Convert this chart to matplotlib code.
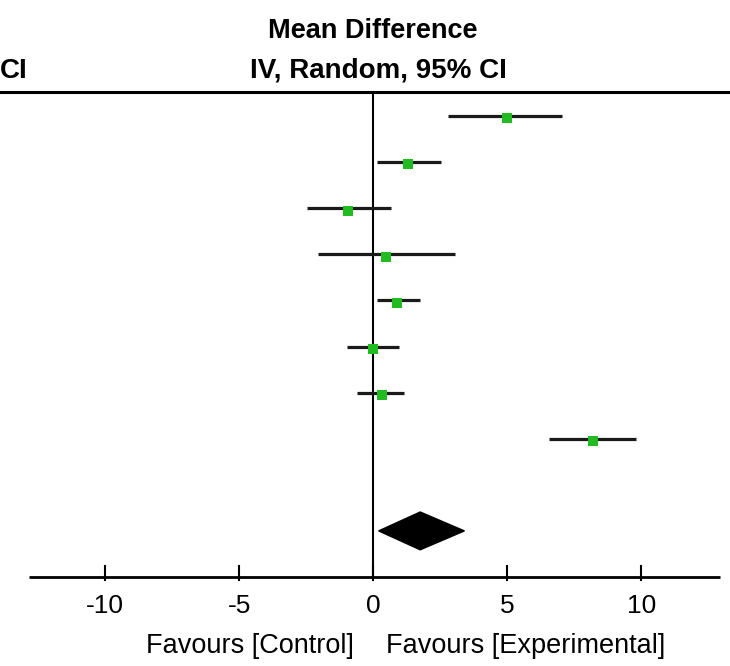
import matplotlib
matplotlib.use("Agg")
import matplotlib.pyplot as plt
from matplotlib.patches import Polygon

plt.rcParams['font.family'] = ['Liberation Sans', 'DejaVu Sans']

# Data
studies = ["Study 1", "Study 2", "Study 3", "Study 4", "Study 5", "Study 6", "Study 7", "Study 8"]
md = [5.0, 1.30, -0.95, 0.47, 0.88, -0.01, 0.32, 8.2]
ci_low = [2.78, 0.14, -2.46, -2.05, 0.14, -0.98, -0.61, 6.57]
ci_high = [7.03, 2.53, 0.66, 3.06, 1.74, 0.96, 1.14, 9.82]
pooled_md = 1.75
pooled_low = 0.2
pooled_high = 3.4
xticks = [-10, -5, 0, 5, 10]
xticklabels = ["-10", "-5", "0", "5", "10"]

W, H = 730, 666
fig = plt.figure(figsize=(W / 100, H / 100), dpi=100)
ax = fig.add_axes([0, 0, 1, 1])
ax.set_axis_off()

px_per_unit = 26.8
x0px = 373.3
ax.set_xlim(-x0px / px_per_unit, (W - x0px) / px_per_unit)
row0_px = 116.0
row_px = 46.1
ax.set_ylim((H - row0_px) / row_px, -row0_px / row_px)

top_y = (92 - row0_px) / row_px
axis_y = 10.0
diamond_y = 9.0

# top header line
ax.axhline(top_y, color="black", lw=2.2)
# zero line
ax.plot([0, 0], [top_y, axis_y], color="black", lw=1.5)
# bottom axis
ax.plot([-12.85, 12.95], [axis_y, axis_y], color="black", lw=2.0, solid_capstyle="butt")
for t, lab in zip(xticks, xticklabels):
    ax.plot([t, t], [axis_y - 0.24, axis_y + 0.06], color="black", lw=1.5)
    ax.text(t, axis_y + 0.62, lab, ha="center", va="center", fontsize=19)

# study rows
for i in range(len(studies)):
    ax.plot([ci_low[i], ci_high[i]], [i, i], color="#1a1a1a", lw=2.3, solid_capstyle="butt")
    ax.plot(md[i], i + 0.05, marker="s", color="#22bb22", markersize=7.5, markeredgewidth=0)

# pooled diamond
dh = 0.41
diamond = Polygon([[pooled_low, diamond_y], [pooled_md, diamond_y - dh],
                   [pooled_high, diamond_y], [pooled_md, diamond_y + dh]],
                  closed=True, facecolor="black", edgecolor="black")
ax.add_patch(diamond)

# header texts
fig.text(373 / W, 1 - 31 / H, "Mean Difference", ha="center", va="center",
         fontsize=19.5, fontweight="bold")
fig.text(378 / W, 1 - 71 / H, "IV, Random, 95% CI", ha="center", va="center",
         fontsize=20, fontweight="bold")
fig.text(0, 1 - 71 / H, "CI", ha="left", va="center", fontsize=20, fontweight="bold")

# favours labels
fig.text(354 / W, 1 - 646 / H, "Favours [Control]", ha="right", va="center", fontsize=19.5)
fig.text(386 / W, 1 - 646 / H, "Favours [Experimental]", ha="left", va="center", fontsize=19.5)

fig.savefig("out.png", dpi=100)
